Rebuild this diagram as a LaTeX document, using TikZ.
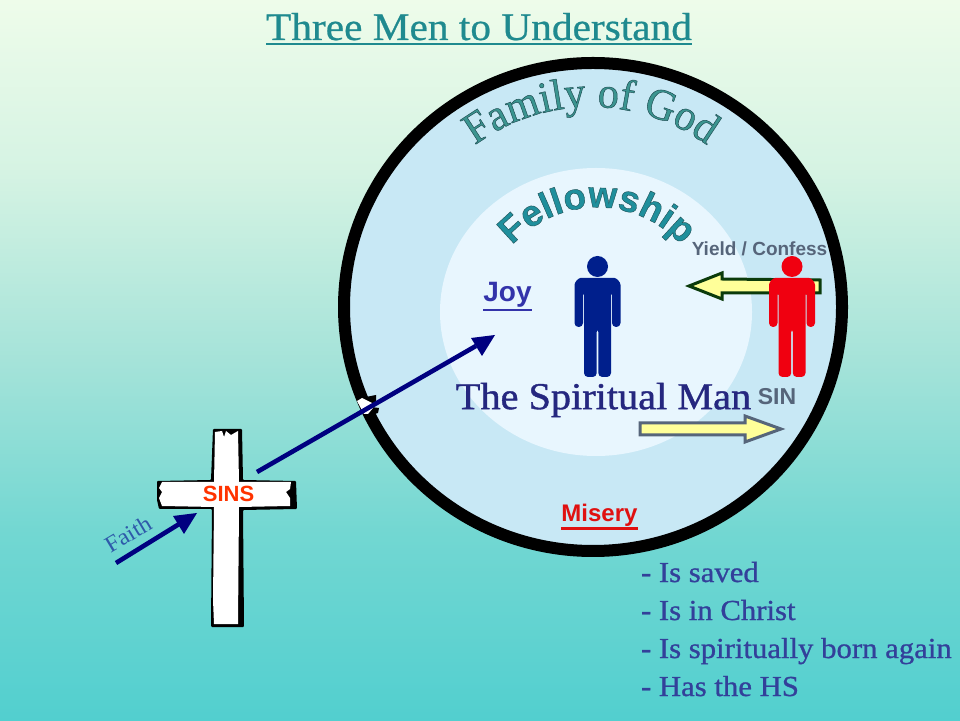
\documentclass[tikz,border=0pt]{standalone}
\usepackage{fontspec}
\setmainfont{Liberation Serif}
\setsansfont{Liberation Sans}
\newfontfamily\widefam[FakeStretch=1.06]{Liberation Serif}
\newfontfamily\tallfam[FakeStretch=0.96]{Liberation Serif}
\usetikzlibrary{decorations.text,calc}
\definecolor{titleteal}{HTML}{1F8A8F}
\definecolor{famteal}{HTML}{3B9590}
\definecolor{felteal}{HTML}{1F8F9C}
\definecolor{disc}{HTML}{C8E8F5}
\definecolor{discin}{HTML}{E8F6FE}
\definecolor{navyb}{HTML}{000080}
\definecolor{listc}{HTML}{33409A}
\definecolor{manc}{HTML}{25277F}
\definecolor{joyc}{HTML}{3333AA}
\definecolor{misc}{HTML}{E01010}
\definecolor{sinsc}{HTML}{FF3300}
\definecolor{grayc}{HTML}{56657A}
\definecolor{yel}{HTML}{FFFF99}
\definecolor{dkgreen}{HTML}{0B3B0B}
\definecolor{faithc}{HTML}{2E5AAA}
\definecolor{redm}{HTML}{F00010}
\definecolor{bluem}{HTML}{001F8C}
\definecolor{c1}{HTML}{52CFCF}
\definecolor{c2}{HTML}{72D7D2}
\definecolor{c3}{HTML}{A5E3D9}
\definecolor{c4}{HTML}{D5F3E3}
\definecolor{c5}{HTML}{EEFCEA}
\pgfdeclareverticalshading{bgshade}{100bp}{color(0bp)=(c1);color(25bp)=(c1);color(38bp)=(c2);color(50bp)=(c3);color(63bp)=(c4);color(75bp)=(c5);color(100bp)=(c5)}
\newcommand{\thickul}[3]{\vtop{\hbox{#1}\kern#2\hrule height #3}}
\newcommand{\manshape}[3]{% x of centre, y of shoulder top (y up), colour
 \begin{scope}[shift={(#1,#2)}]
  \fill[#3] (0,11.5) circle (10.5);
  \fill[#3,rounded corners=4] (-23,-49) -- (-23,-11) .. controls (-23,-4) and (-19,0) .. (-13,0) -- (13,0) .. controls (19,0) and (23,-4) .. (23,-11) -- (23,-49) -- (14.5,-49) -- (14.5,-13) -- (13.5,-13) -- (13.5,-99) -- (0.8,-99) -- (0.8,-50) -- (-0.8,-50) -- (-0.8,-99) -- (-13.5,-99) -- (-13.5,-13) -- (-14.5,-13) -- (-14.5,-49) -- cycle;
 \end{scope}}
\tikzset{
 every node/.style={inner sep=0pt,outer sep=0pt},
 sanslab/.style={font=\sffamily\bfseries\fontsize{19}{21}\selectfont},
 listitem/.style={anchor=base west,text=listc,font=\widefam\fontsize{29}{32}\selectfont\special{pdf:code 2 Tr 0.25 w 0.2 0.25 0.6 RG}},
 bigarrow/.style={draw=navyb,line width=4.6pt,line cap=butt},
 headtip/.style={fill=navyb},
 yelarrow/.style={fill=yel,line width=3pt,miter limit=10}
}
\begin{document}
\begin{tikzpicture}[x=1pt,y=1pt]
\useasboundingbox (0,0) rectangle (960,720);
\shade[shading=bgshade] (0,0) rectangle (960,720);
% discs
\fill[disc] (593,413) ellipse [x radius=249,y radius=244];
\fill[discin] (596,408) ellipse [x radius=156,y radius=144];
\draw[black,line width=12pt] (593,413) ellipse [x radius=249,y radius=244];
% notch in the ring
\fill[black] (366,323) -- (376,325) -- (376,318) -- (370,316) -- cycle;
\fill[black] (371,313) -- (379,312) -- (378,307) -- (369,304) -- cycle;
\fill[white] (357,319) -- (362,322) -- (372,317) -- (373,312) -- (368,306) -- (364,306) -- cycle;
% title
\node[anchor=base,text=titleteal,font=\widefam\fontsize{39}{41}\selectfont\special{pdf:code 2 Tr 0.25 w 0.12 0.54 0.56 RG}] (title) at (479,680) {\thickul{Three Men to Understand}{3pt}{2pt}};
% curved titles
\path[decorate,decoration={text along path,text align=center,
  text={|\tallfam\fontsize{44}{46}\selectfont\color{famteal}\special{pdf:code 2 Tr 0.5 w 0.12 0.31 0.33 RG}|Family of God}}]
  (591,418) ++(165:195) arc (165:15:195);
\path[decorate,decoration={text along path,text align=center,
  text={|\sffamily\bfseries\fontsize{37}{39}\selectfont\color{felteal}\special{pdf:code 2 Tr 0.4 w 0.12 0.31 0.33 RG}|Fellowship}}]
  (597,399) ++(165:113.5) arc (165:15:113.5);
% yield arrow and men
\draw[yelarrow,draw=dkgreen] (820,440) -- (820,427) -- (722,427) -- (722,421) -- (689,434) -- (722,447) -- (722,441) -- cycle;
\manshape{597.5}{442}{bluem}
\manshape{792}{442}{redm}
% sin arrow
\draw[yelarrow,draw=grayc] (640,297) -- (640,285) -- (745,285) -- (745,278) -- (781,291) -- (745,304) -- (745,297) -- cycle;
% labels
\node[anchor=base,font=\sffamily\bfseries\fontsize{28}{30}\selectfont,text=joyc] (joy) at (507.5,418) {\thickul{Joy}{1pt}{2pt}};
\node[sanslab,text=grayc] (yield) at (759.5,471) {Yield / Confess};
\node[text=manc,font=\widefam\fontsize{38}{40}\selectfont\special{pdf:code 2 Tr 0.4 w 0.145 0.153 0.498 RG}] (man) at (603.5,320) {The Spiritual Man};
\node[font=\sffamily\bfseries\fontsize{23}{25}\selectfont,text=grayc] (sin) at (777,323) {SIN};
\node[anchor=base,font=\sffamily\bfseries\fontsize{24}{26}\selectfont,text=misc] (misery) at (599.5,198) {\thickul{Misery}{0.5pt}{2.5pt}};
% cross
\fill[black,rounded corners=1] (213,291) -- (242,291) -- (243,240) -- (296,239) -- (297,211) -- (243,210) -- (244,93) -- (211,93) -- (212,211) -- (159,211) -- (157,220) -- (157,239) -- (211,240) -- cycle;
\fill[white] (215,288) -- (222,289) -- (224,283) -- (226,289) -- (231,285) -- (238,289) -- (239,238) -- (291,238) -- (290,231) -- (286,228) -- (290,222) -- (290,214) -- (239,213) -- (238,96) -- (214,96) -- (213,120) -- (214,213) -- (162,214) -- (159,222) -- (162,228) -- (159,232) -- (162,238) -- (214,238) -- cycle;
\node[font=\sffamily\bfseries\fontsize{22}{24}\selectfont,text=sinsc] (sins) at (228.5,226) {SINS};
% connectors
\coordinate (faithstart) at (116,157);
\coordinate (faithend) at (197,207);
\coordinate (spstart) at (257,248);
\coordinate (spend) at (495,385);
\draw[bigarrow] (faithstart) -- ($(faithstart)!0.82!(faithend)$);
\fill[headtip] (faithend) -- (173,204) -- (184,186) -- cycle;
\draw[bigarrow] (spstart) -- ($(spstart)!0.92!(spend)$);
\fill[headtip] (spend) -- (471,382) -- (482,364) -- cycle;
\node[text=faithc,rotate=31,font=\widefam\fontsize{23}{25}\selectfont] (faith) at (128,186) {Faith};
% list
\node[listitem] (l1) at (641,138) {- Is saved};
\node[listitem] (l2) at (641,100) {- Is in Christ};
\node[listitem] (l3) at (641,62) {- Is spiritually born again};
\node[listitem] (l4) at (641,24) {- Has the HS};
\end{tikzpicture}
\end{document}
